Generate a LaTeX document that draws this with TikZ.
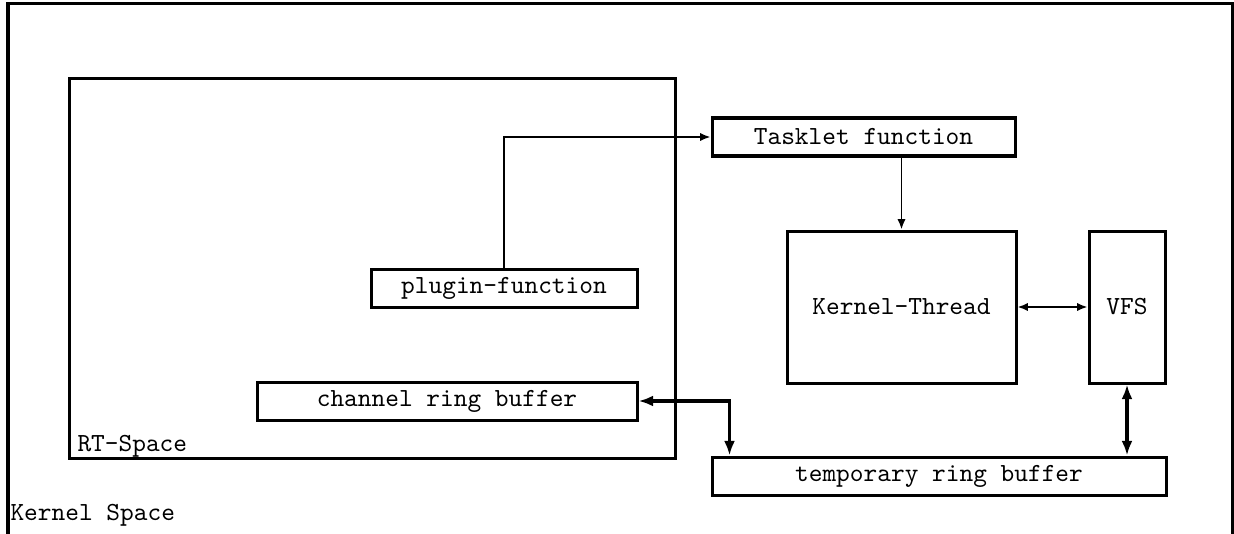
\documentclass[tikz,border=0pt]{standalone}
\usetikzlibrary{arrows.meta}
\newcommand\upx{0.3831pt}
\begin{document}
\begin{tikzpicture}[x=0.3831pt,y=-0.3831pt,
  box/.style={draw,line width=1.15pt,inner sep=0pt,font=\ttfamily},
  thinarrow/.style={line width=0.7pt,{Latex[length=4pt,width=3.2pt]}-{Latex[length=4pt,width=3.2pt]}},
  onearrow/.style={line width=0.7pt,-{Latex[length=4pt,width=3.2pt]}},
  thickarrow/.style={line width=1.4pt,{Latex[length=5.6pt,width=4.2pt]}-{Latex[length=5.6pt,width=4.2pt]}},
  lbl/.style={font=\ttfamily,inner sep=0pt,anchor=base west}]
\useasboundingbox (0,0) rectangle (1234,533);
\draw[line width=1.15pt] (8,560) -- (8,4) -- (1232,4) -- (1232,560);
\node[lbl] (ks) at (10,520) {Kernel Space};
\node[box,minimum width={606*\upx},minimum height={379*\upx}] (rt) at (372,268.5) {};
\node[lbl] (rtl) at (77,451) {RT-Space};
\node[box,minimum width={303*\upx},minimum height={38*\upx}] (tasklet) at (863.5,137) {Tasklet function};
\node[box,minimum width={229*\upx},minimum height={152*\upx}] (kthread) at (901.5,307) {Kernel-Thread};
\node[box,minimum width={76*\upx},minimum height={152*\upx}] (vfs) at (1127,307) {VFS};
\node[box,minimum width={266*\upx},minimum height={38*\upx}] (plugin) at (504,288) {plugin-function};
\node[box,minimum width={380*\upx},minimum height={38*\upx}] (chan) at (447,401) {channel ring buffer};
\node[box,minimum width={454*\upx},minimum height={38*\upx}] (temp) at (939,476) {temporary ring buffer};
\draw[onearrow] (plugin.north) |- (tasklet.west);
\draw[onearrow] (tasklet.south -| kthread.north) -- (kthread.north);
\draw[thinarrow] (kthread.east) -- (vfs.west);
\draw[thickarrow] (chan.east) -| ([xshift={19*\upx}]temp.north west);
\draw[thickarrow] (vfs.south) -- (vfs.south |- temp.north);
\end{tikzpicture}
\end{document}
